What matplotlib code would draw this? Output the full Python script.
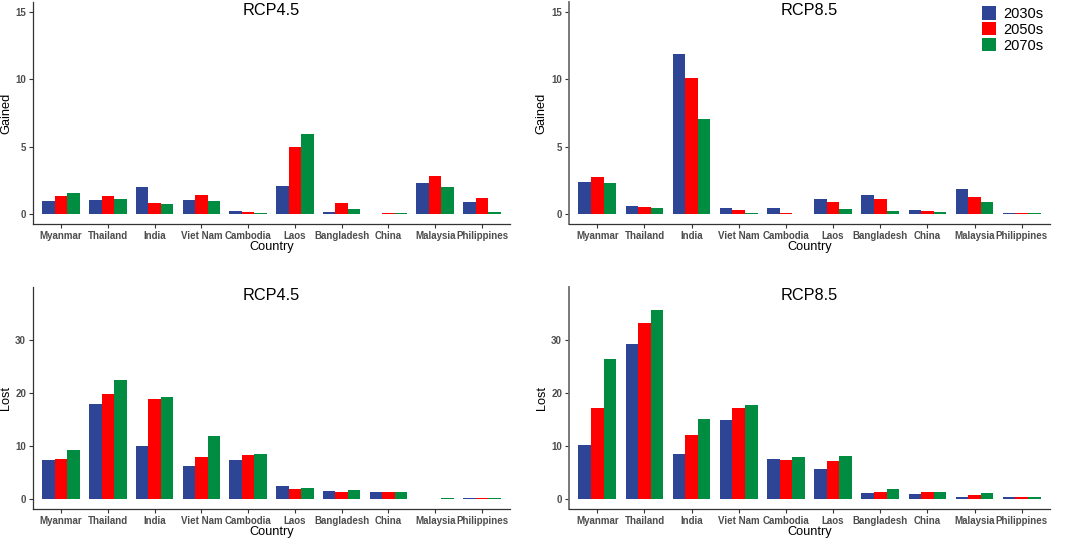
import numpy as np
import matplotlib
matplotlib.use('Agg')
import matplotlib.pyplot as plt

plt.rcParams['font.family'] = ['Liberation Sans', 'DejaVu Sans']

countries = ['Myanmar', 'Thailand', 'India', 'Viet Nam', 'Cambodia', 'Laos',
             'Bangladesh', 'China', 'Malaysia', 'Philippines']
periods = ['2030s', '2050s', '2070s']
colors = ['#2E4494', '#FF0000', '#008C41']

# values, one list per period
gained_45_2030 = [0.94, 1.03, 1.97, 1.03, 0.22, 2.07, 0.17, 0.02, 2.29, 0.86]
gained_45_2050 = [1.35, 1.30, 0.81, 1.43, 0.17, 4.98, 0.79, 0.10, 2.83, 1.16]
gained_45_2070 = [1.55, 1.08, 0.76, 0.94, 0.07, 5.94, 0.37, 0.10, 2.02, 0.12]

gained_85_2030 = [2.34, 0.59, 11.92, 0.42, 0.47, 1.13, 1.40, 0.27, 1.87, 0.05]
gained_85_2050 = [2.73, 0.54, 10.10, 0.30, 0.07, 0.89, 1.08, 0.22, 1.26, 0.05]
gained_85_2070 = [2.27, 0.44, 7.02, 0.07, 0.00, 0.39, 0.22, 0.15, 0.89, 0.05]

lost_45_2030 = [7.25, 17.8, 9.94, 6.19, 7.31, 2.38, 1.56, 1.31, 0.05, 0.20]
lost_45_2050 = [7.44, 19.7, 18.8, 7.88, 8.25, 1.94, 1.25, 1.31, 0.06, 0.20]
lost_45_2070 = [9.25, 22.4, 19.2, 11.9, 8.50, 2.12, 1.62, 1.31, 0.25, 0.25]

lost_85_2030 = [10.1, 29.1, 8.5, 14.9, 7.50, 5.62, 1.06, 1.00, 0.31, 0.31]
lost_85_2050 = [17.1, 33.2, 12.1, 17.2, 7.31, 7.19, 1.31, 1.25, 0.81, 0.31]
lost_85_2070 = [26.3, 35.5, 15.1, 17.6, 7.94, 8.00, 1.94, 1.25, 1.19, 0.31]

panels = [
    ('RCP4.5', 'Gained', [gained_45_2030, gained_45_2050, gained_45_2070], (0, 15), [0, 5, 10, 15]),
    ('RCP8.5', 'Gained', [gained_85_2030, gained_85_2050, gained_85_2070], (0, 15), [0, 5, 10, 15]),
    ('RCP4.5', 'Lost', [lost_45_2030, lost_45_2050, lost_45_2070], (0, 38), [0, 10, 20, 30]),
    ('RCP8.5', 'Lost', [lost_85_2030, lost_85_2050, lost_85_2070], (0, 38), [0, 10, 20, 30]),
]

W, H = 1065, 541
fig = plt.figure(figsize=(W / 100., H / 100.), dpi=100)

# axes boxes in pixels: left, top, right, bottom
boxes = [(33, 2, 510, 224), (569, 2, 1050, 224),
         (33, 287, 510, 509), (569, 287, 1050, 509)]

x = np.arange(len(countries))
bw = 0.8 / 3
for i, ((title, ylab, series, lims, yt), (l, t, r, b)) in enumerate(zip(panels, boxes)):
    ax = fig.add_axes([l / W, 1 - b / H, (r - l) / W, (b - t) / H])
    for k, vals in enumerate(series):
        ax.bar(x + (k - 1) * bw, vals, width=bw, color=colors[k], label=periods[k])
    pad = 0.05 * (lims[1] - lims[0])
    ax.set_ylim(lims[0] - pad, lims[1] + pad)
    ax.set_xlim(-0.6, len(countries) - 0.4)
    ax.set_xticks(x)
    ax.set_xticklabels(countries)
    ax.set_yticks(yt)
    for s in ['top', 'right']:
        ax.spines[s].set_visible(False)
    ax.spines['bottom'].set_color('#333333')
    ax.spines['left'].set_color('#333333' if i % 2 == 0 else '#6E6E6E')
    ax.spines['left'].set_linewidth(0.9 if i % 2 == 0 else 1.3)
    ax.spines['bottom'].set_linewidth(0.9)
    ax.tick_params(length=3, width=0.8, color='#333333', labelsize=7, labelcolor='#4D4D4D', pad=2)
    for lab in ax.get_xticklabels() + ax.get_yticklabels():
        lab.set_fontweight('bold')
    ax.set_xlabel('Country', fontsize=9.2)
    ax.set_ylabel(ylab, fontsize=9.2)
    ax.xaxis.set_label_coords(0.5, -0.075)
    ax.yaxis.set_label_coords(-0.044, 0.5)
    ax.text(0.5, 0.962, title, transform=ax.transAxes, ha='center', va='center', fontsize=11.7)
    if title == 'RCP8.5' and ylab == 'Gained':
        ax.legend(loc='upper right', bbox_to_anchor=(1043. / W, 1 - 6. / H),
                  bbox_transform=fig.transFigure, frameon=False, fontsize=10.5,
                  handlelength=1.0, handleheight=1.05, labelspacing=0.08,
                  handletextpad=0.45, borderpad=0, borderaxespad=0)

plt.savefig('out.png', dpi=100)
